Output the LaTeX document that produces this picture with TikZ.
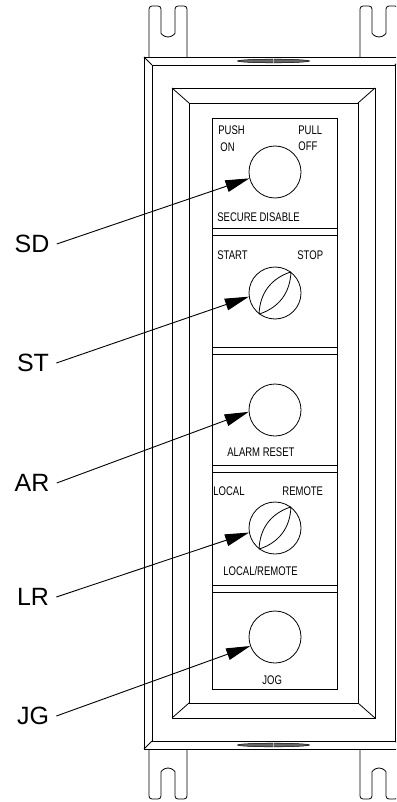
\documentclass[tikz,border=0pt]{standalone}
\usepackage{fontspec}
\setmainfont{Liberation Sans}
\newfontfamily\platefont[FakeStretch=0.76]{Liberation Sans}
\usetikzlibrary{arrows.meta}

\tikzset{
	knob/.style = {draw, circle, minimum size = 52pt, inner sep = 0pt},
	plate/.style = {font = \platefont\fontsize{12.5}{13}\selectfont, inner sep = 0pt, anchor = base west},
	tag/.style = {font = \fontsize{25}{28}\selectfont, inner xsep = 7pt, inner ysep = 0pt},
	pointer/.style = {line width = 0.9pt, -{Triangle[length = 24pt, width = 12pt]}}
}

\begin{document}
\begin{tikzpicture}[x = 1pt, y = -1pt, line width = 0.8pt]
\useasboundingbox (0,0) rectangle (396,802);
\clip (0,0) rectangle (396,802);

% mounting tabs
\foreach \c in {168,379} {
	\draw[rounded corners = 3pt] (\c-19,57) -- (\c-19,6) -- (\c-7,6) -- (\c-7,30) arc[start angle = 180, end angle = 0, radius = 7] -- (\c+7,6) -- (\c+19,6) -- (\c+19,57);
	\draw[rounded corners = 3pt] (\c-19,749) -- (\c-19,799) -- (\c-7,799) -- (\c-7,775) arc[start angle = 180, end angle = 360, radius = 7] -- (\c+7,799) -- (\c+19,799) -- (\c+19,749);
}

% housing
\draw (144,57) rectangle (403,749);
\draw (152,65) rectangle (395,741);
\draw (144,57) -- (152,65) (403,57) -- (395,65) (144,749) -- (152,741) (403,749) -- (395,741);
\foreach \y in {61,745} {
	\draw[fill = black!60, line width = 0.5pt] (273.5,\y) ellipse [x radius = 36, y radius = 1.8];
	\draw[black!30, line width = 0.4pt] (273.5,\y-1.8) -- (273.5,\y+1.8);
}

% bezel
\draw (172,88) rectangle (375,718);
\draw (189,103) rectangle (358,703);
\draw (172,88) -- (189,103) (375,88) -- (358,103) (172,718) -- (189,703) (375,718) -- (358,703);

% plate
\draw (212,118) rectangle (337,689);
\foreach \y in {228,347,465,585}
	\draw (212,\y) -- (337,\y) (212,\y+7) -- (337,\y+7);

\node[knob] (sd) at (275,172) {};
\node[knob] (st) at (275,293) {};
\node[knob] (ar) at (275,410) {};
\node[knob] (lr) at (275,528) {};
\node[knob] (jg) at (275,637) {};
\foreach \k in {st,lr} {
	\draw (\k.233) .. controls +(0.6,-20.8) and +(-19.8,6.4) .. (\k.53);
	\draw (\k.233) .. controls +(19.8,-6.4) and +(-0.6,20.8) .. (\k.53);
}

\node[plate] (push) at (218,135) {PUSH};
\node[plate] (on) at (220,152) {ON};
\node[plate] (pull) at (298,135) {PULL};
\node[plate] (off) at (298,151) {OFF};
\node[plate] (secure) at (217,222) {SECURE DISABLE};
\node[plate] (start) at (217,259) {START};
\node[plate] (stop) at (297,259) {STOP};
\node[plate] (alarm) at (227,456) {ALARM RESET};
\node[plate] (local) at (213,495) {LOCAL};
\node[plate] (remote) at (282,495) {REMOTE};
\node[plate] (localremote) at (223,575) {LOCAL/REMOTE};
\node[plate] (jog) at (262,684) {JOG};

% callouts
\node[tag] (sdtag) at (32,244) {SD};
\node[tag] (sttag) at (33,363) {ST};
\node[tag] (artag) at (32,483) {AR};
\node[tag] (lrtag) at (33,597) {LR};
\node[tag] (jgtag) at (33,716) {JG};
\draw[pointer] (sdtag.east) -- (sd.194);
\draw[pointer] (sttag.east) -- (st.188);
\draw[pointer] (artag.east) -- (ar.184);
\draw[pointer] (lrtag.east) -- (lr.190);
\draw[pointer] (jgtag.east) -- (jg.200);
\end{tikzpicture}
\end{document}
